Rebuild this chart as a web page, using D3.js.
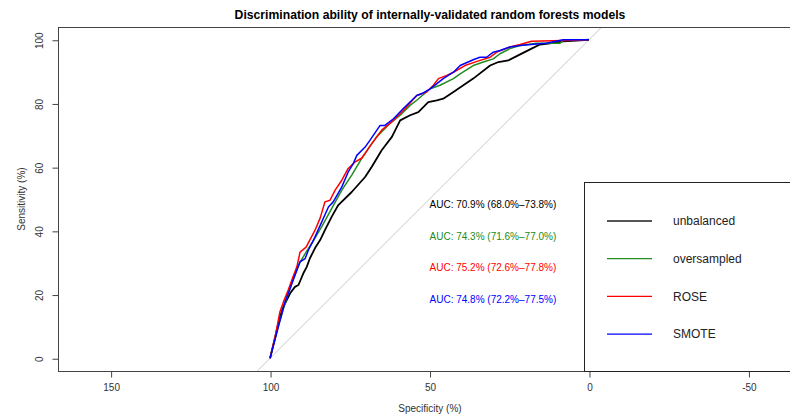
<!DOCTYPE html>
<html>
<head>
<meta charset="utf-8">
<script src="https://cdn.jsdelivr.net/npm/d3@7"></script>
<style>
  body { margin: 0; background: #fff; }
  svg { display: block; font-family: "Liberation Sans", Arial, sans-serif; }
</style>
</head>
<body>
<div class="chart"></div>
<script>
const width = 790;
const height = 417;
const margin = { top: 27, left: 58, bottom: 46, right: -12 }; // box runs past the right edge

// ROC points as [specificity %, sensitivity %]
const unbalanced = [[100,0],[96.9,13.0],[95.8,16.2],[93.7,20.4],[92.2,22.4],[91.1,23.0],[89.6,26.6],[88.5,28.7],[87.5,31.4],[85.9,34.6],[84.3,37.1],[82.8,40.2],[80.7,44.4],[78.6,48.1],[74.4,52.2],[70.2,56.9],[68.1,60.1],[65.0,65.3],[61.8,69.5],[59.2,74.7],[56.1,76.3],[53.5,77.3],[50.4,80.4],[47.7,81.0],[45.7,81.5],[42.5,83.6],[39.4,85.7],[36.3,87.8],[31.0,91.9],[28.4,93.0],[25.3,93.5],[22.2,95.1],[18.0,97.2],[15.4,98.5],[12.2,98.9],[8.1,99.5],[0,100]];
const oversampled = [[100,0],[97.6,9.5],[95.3,17.3],[93.1,23.9],[90.6,30.2],[88.7,33.3],[86.9,36.1],[83.8,41.3],[80.7,47.0],[77.5,52.8],[74.4,57.5],[71.3,62.7],[69.2,65.8],[66.6,69.5],[62.4,73.7],[59.2,76.3],[56.1,79.4],[54.0,81.0],[49.8,84.6],[46.7,85.7],[42.5,87.8],[40.4,89.3],[36.3,91.9],[33.1,93.0],[30.0,94.0],[27.9,95.6],[24.8,97.2],[21.6,98.2],[16.4,98.9],[9.1,98.9],[8.1,99.8],[0,100]];
const rose = [[100,0],[98.4,6.8],[96.9,14.6],[95.8,17.7],[94.3,21.4],[93.2,24.5],[91.6,28.7],[90.6,33.3],[88.7,34.9],[85.9,40.2],[84.3,44.0],[82.8,49.1],[81.2,49.6],[79.6,52.8],[77.5,55.9],[75.5,59.6],[73.4,61.6],[71.3,62.8],[70.2,64.3],[68.1,67.4],[65.0,71.6],[61.3,74.7],[58.2,77.8],[54.0,82.5],[50.9,83.6],[48.8,85.7],[47.2,87.8],[44.6,88.8],[42.5,89.8],[38.9,91.9],[35.1,93.2],[31.0,94.5],[28.9,96.1],[24.8,97.7],[21.6,98.5],[18.0,99.5],[8.1,99.8],[0,100]];
const smote = [[100,0],[97.4,9.9],[95.3,17.7],[93.7,21.9],[92.2,26.1],[90.6,30.3],[89.0,31.3],[88.0,33.9],[86.4,37.1],[85.9,38.1],[81.7,47.5],[80.2,49.1],[77.5,53.8],[75.5,58.5],[73.9,61.1],[72.8,63.7],[70.2,66.3],[68.7,68.4],[65.5,73.1],[64.0,73.1],[61.3,75.2],[58.2,78.4],[54.0,82.5],[52.4,83.1],[49.8,84.6],[45.7,87.8],[42.5,89.8],[40.4,91.9],[36.3,93.7],[34.2,94.5],[32.1,94.5],[30.0,96.1],[27.9,96.6],[24.8,97.7],[21.6,98.2],[16.4,98.7],[13.3,98.9],[8.1,100],[0,100]];

const seriesNames = ["unbalanced", "oversampled", "ROSE", "SMOTE"];
const seriesData = [unbalanced, oversampled, rose, smote];
const seriesColors = ["#000000", "#228b22", "#ff0000", "#0000ff"];
const aucLabels = ["AUC: 70.9% (68.0%\u201373.8%)", "AUC: 74.3% (71.6%\u201377.0%)", "AUC: 75.2% (72.6%\u201377.8%)", "AUC: 74.8% (72.2%\u201377.5%)"];
const xTicks = [150, 100, 50, 0, -50];
const yTicks = [0, 20, 40, 60, 80, 100];

const svg = d3.select("div.chart")
    .append("svg")
    .attr("width", width)
    .attr("height", height);

const x = d3.scaleLinear()
    .domain([166.5, -66.8])
    .range([margin.left, width - margin.right]);

const y = d3.scaleLinear()
    .domain([-4, 104])
    .range([height - margin.bottom, margin.top]);

svg.append("clipPath").attr("id", "plotclip")
    .append("rect")
    .attr("x", margin.left).attr("y", margin.top)
    .attr("width", width - margin.left - margin.right)
    .attr("height", height - margin.top - margin.bottom);

// chance diagonal, runs corner to corner like abline
svg.append("line")
    .attr("clip-path", "url(#plotclip)")
    .attr("x1", x(110)).attr("y1", y(-10))
    .attr("x2", x(-10)).attr("y2", y(110))
    .attr("stroke", "#c8c8c8")
    .attr("stroke-width", 1);

const line = d3.line()
    .x(d => x(d[0]))
    .y(d => y(d[1]));

svg.append("g")
    .attr("fill", "none")
    .selectAll("path")
    .data(seriesData)
    .join("path")
    .attr("stroke", (d, i) => seriesColors[i])
    .attr("stroke-width", (d, i) => i == 0 ? 1.8 : 1.5)
    .attr("stroke-linejoin", "round")
    .attr("d", line);

// AUC annotations
svg.append("g")
    .selectAll("text")
    .data(aucLabels)
    .join("text")
    .attr("x", x(50))
    .attr("y", (d, i) => y(48.3 - i * 9.95))
    .attr("dy", "0.35em")
    .attr("fill", (d, i) => seriesColors[i])
    .style("font-size", "10px")
    .text(d => d);

// plot box
svg.append("rect")
    .attr("x", margin.left + 0.5)
    .attr("y", margin.top + 0.5)
    .attr("width", width - margin.left - margin.right)
    .attr("height", height - margin.top - margin.bottom)
    .attr("fill", "none")
    .attr("stroke", "#444");

// axes (R prints a plain hyphen for negatives)
const xAxis = svg.append("g")
    .attr("transform", `translate(0.5,${height - margin.bottom + 0.5})`)
    .call(d3.axisBottom(x).tickValues(xTicks).tickSize(6).tickPadding(6).tickFormat(d => String(d)));
xAxis.select(".domain").remove();
xAxis.selectAll("line").attr("stroke", "#444");
xAxis.selectAll("text").attr("fill", "#333").style("font-size", "10px").style("font-family", "Liberation Sans, Arial, sans-serif");

const yAxis = svg.append("g")
    .attr("transform", `translate(${margin.left + 0.5},0.5)`)
    .call(d3.axisLeft(y).tickValues(yTicks).tickSize(6).tickFormat(d => String(d)));
yAxis.select(".domain").remove();
yAxis.selectAll("line").attr("stroke", "#444");
yAxis.selectAll("text")
    .attr("fill", "#333")
    .attr("x", null).attr("dy", null)
    .attr("text-anchor", "middle")
    .attr("transform", "translate(-16,0) rotate(-90)")
    .style("font-size", "10px")
    .style("font-family", "Liberation Sans, Arial, sans-serif");

// axis titles
svg.append("text")
    .attr("x", (margin.left + width - margin.right) / 2)
    .attr("y", 412)
    .attr("text-anchor", "middle")
    .attr("fill", "#333")
    .style("font-size", "10px")
    .text("Specificity (%)");

svg.append("text")
    .attr("transform", `translate(25,${(margin.top + height - margin.bottom) / 2}) rotate(-90)`)
    .attr("text-anchor", "middle")
    .attr("fill", "#333")
    .style("font-size", "10px")
    .text("Sensitivity (%)");

svg.append("text")
    .attr("x", (margin.left + width - margin.right) / 2)
    .attr("y", 19)
    .attr("text-anchor", "middle")
    .style("font-size", "12.2px")
    .style("font-weight", "bold")
    .text("Discrimination ability of internally-validated random forests models");

// legend
const legend = svg.append("g");
legend.append("rect")
    .attr("x", 584.5).attr("y", 182.5)
    .attr("width", 230).attr("height", height - margin.bottom - 182)
    .attr("fill", "#fff")
    .attr("stroke", "#222");

const item = legend.selectAll("g.item")
    .data(seriesNames)
    .join("g")
    .attr("class", "item")
    .attr("transform", (d, i) => `translate(0,${221 + i * 37.7})`);
item.append("line")
    .attr("x1", 607).attr("x2", 652)
    .attr("stroke", (d, i) => i == 0 ? "#555" : seriesColors[i])
    .attr("stroke-width", (d, i) => i == 0 ? 2 : 1.3);
item.append("text")
    .attr("x", 673)
    .attr("dy", "0.35em")
    .style("font-size", "12px")
    .attr("fill", "#222")
    .text(d => d);
</script>
</body>
</html>
